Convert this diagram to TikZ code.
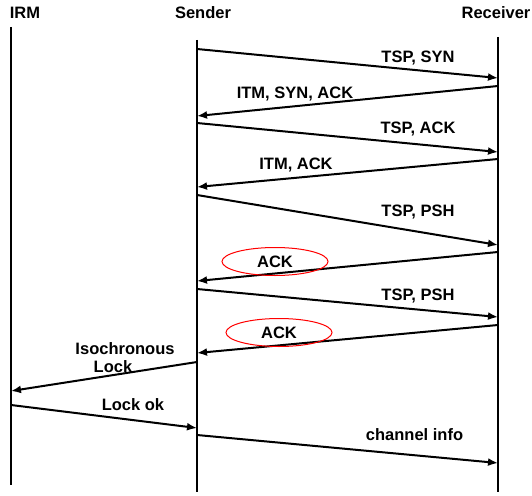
\documentclass[tikz,border=0pt]{standalone}
\usepackage{fontspec}
\setmainfont{Liberation Sans}
\usepackage{tikz}
\usetikzlibrary{arrows.meta,shapes.geometric}

\tikzset{
    life/.style={line width=1.3pt},
    msg/.style={line width=2pt, -{Latex[length=10pt,width=8pt]}},
    lbl/.style={font=\fontsize{16.5}{18}\selectfont\bfseries, inner sep=0pt},
    ackring/.style={lbl, draw=red, line width=1pt, ellipse, inner sep=0pt,
        minimum width=106pt, minimum height=28pt}
}

\begin{document}
\begin{tikzpicture}[x=1pt,y=-1pt]
        \useasboundingbox (0,0) rectangle (532,495);

        \node [lbl] (irm) at (25,13) {IRM};
        \node [lbl] (sender) at (203,13) {Sender};
        \node [lbl] (receiver) at (496,13) {Receiver};

        \coordinate (irmtop) at (11,27);
        \coordinate (irmbot) at (11,485);
        \coordinate (sendtop) at (197,40);
        \coordinate (sendbot) at (197,492);
        \coordinate (recvtop) at (498,37);
        \coordinate (recvbot) at (498,492);

        \draw [life] (irmtop) -- (irmbot);
        \draw [life] (sendtop) -- (sendbot);
        \draw [life] (recvtop) -- (recvbot);

        \coordinate (s1) at (197,49);  \coordinate (r1) at (498,78);
        \coordinate (r2) at (498,86);  \coordinate (s2) at (197,116);
        \coordinate (s3) at (197,123); \coordinate (r3) at (498,152);
        \coordinate (r4) at (498,159); \coordinate (s4) at (197,187);
        \coordinate (s5) at (197,195); \coordinate (r5) at (498,245);
        \coordinate (r6) at (498,252); \coordinate (s6) at (197,281);
        \coordinate (s7) at (197,289); \coordinate (r7) at (498,317);
        \coordinate (r8) at (498,325); \coordinate (s8) at (197,353);
        \coordinate (s9) at (197,362); \coordinate (i9) at (11,391);
        \coordinate (i10) at (11,405); \coordinate (s10) at (197,428);
        \coordinate (s11) at (197,435); \coordinate (r11) at (498,463);

        \draw [msg] (s1) -- (r1);
        \draw [msg] (r2) -- (s2);
        \draw [msg] (s3) -- (r3);
        \draw [msg] (r4) -- (s4);
        \draw [msg] (s5) -- (r5);
        \draw [msg] (r6) -- (s6);
        \draw [msg] (s7) -- (r7);
        \draw [msg] (r8) -- (s8);
        \draw [msg] (s9) -- (i9);
        \draw [msg] (i10) -- (s10);
        \draw [msg] (s11) -- (r11);

        \node [lbl] (tspsyn) at (418,58) {TSP, SYN};
        \node [lbl] (itmsynack) at (295,94.5) {ITM, SYN, ACK};
        \node [lbl] (tspack) at (418,129.5) {TSP, ACK};
        \node [lbl] (itmack) at (296,165.5) {ITM, ACK};
        \node [lbl] (tsppsh1) at (418,212) {TSP, PSH};
        \node [ackring] (ack1) at (275,261.5) {ACK};
        \node [lbl] (tsppsh2) at (418,296) {TSP, PSH};
        \node [ackring] (ack2) at (279,332.5) {ACK};
        \node [lbl, align=center] (isolock) at (125,357.5) {Isochronous\\\hspace*{-24pt}Lock};
        \node [lbl] (lockok) at (133,405) {Lock ok};
        \node [lbl] (chinfo) at (414.5,435) {channel info};
\end{tikzpicture}
\end{document}
